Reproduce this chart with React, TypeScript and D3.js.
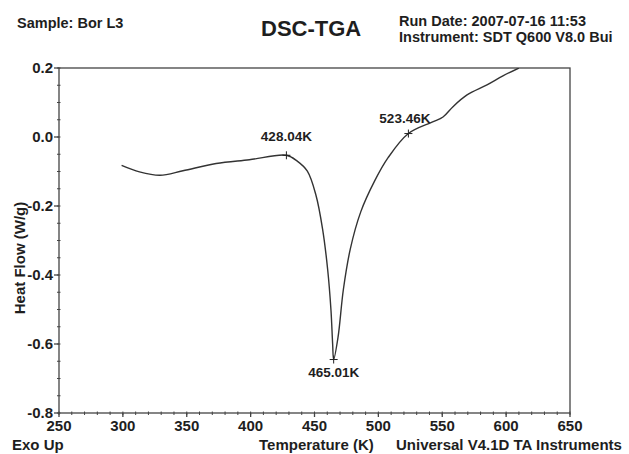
import React from 'react';
import * as d3 from 'd3';

// temperature (K) and heat flow (W/g)
const temps = [
  299, 313, 329, 347, 373, 399, 428, 436.5, 444.4, 451.1, 456.3, 460.3, 462.9,
  464.2, 465, 468.4, 472.6, 478, 486.2, 497, 507.6, 523.5, 542, 550.6, 558.4,
  569.4, 585, 597.5, 610,
];
const heatFlow = [
  -0.082, -0.101, -0.111, -0.098, -0.077, -0.066, -0.053, -0.07, -0.099,
  -0.168, -0.266, -0.384, -0.502, -0.6, -0.645, -0.581, -0.442, -0.325, -0.217,
  -0.128, -0.06, 0.01, 0.043, 0.058, 0.088, 0.122, 0.151, 0.177, 0.2,
];

const markerTemps = [428, 465, 523.5];
const markerValues = [-0.053, -0.645, 0.01];
const markerLabels = ['428.04K', '465.01K', '523.46K'];

const xTicks = [250, 300, 350, 400, 450, 500, 550, 600, 650];
const yTicks = [0.2, 0.0, -0.2, -0.4, -0.6, -0.8];

const W = 629,
  H = 454;
const margin = {top: 68, right: 59, bottom: 41, left: 59};

// label offsets relative to the cross
const labelOffset = [
  {dx: 0, dy: -14},
  {dx: 0, dy: 17},
  {dx: -3.5, dy: -11},
];

const App = () => {
  const x = d3.scaleLinear().domain([250, 650]).range([margin.left, W - margin.right]);
  const y = d3.scaleLinear().domain([-0.8, 0.2]).range([H - margin.bottom, margin.top]);

  const pts = temps.map((t, i) => [t, heatFlow[i]] as [number, number]);
  const line = d3
    .line<[number, number]>()
    .x(d => x(d[0]))
    .y(d => y(d[1]))
    .curve(d3.curveCatmullRom.alpha(0.5));

  const font = '"Liberation Sans", Arial, sans-serif';
  const ink = '#1e1e1e';
  const axisCol = '#444';
  const x0 = x(250),
    x1 = x(650),
    y0 = y(-0.8),
    y1 = y(0.2);

  const xMinor = d3.range(250, 651, 10);
  const yMinor = d3.range(-0.8, 0.2001, 0.05);

  return (
    <svg
      width={W}
      height={H}
      style={{position: 'absolute', left: 0, top: 0, background: '#fff'}}
      fontFamily={font}
      fontWeight="bold"
    >
      <defs>
        <clipPath id="plot">
          <rect x={x0} y={y1} width={x1 - x0} height={y0 - y1} />
        </clipPath>
      </defs>

      {/* header */}
      <text x={17} y={28} fontSize={14.5} fill={ink}>Sample: Bor L3</text>
      <text x={261} y={36} fontSize={22} fill={ink}>DSC-TGA</text>
      <text x={399} y={26} fontSize={14.5} fill={ink}>Run Date: 2007-07-16 11:53</text>
      <text x={399} y={42} fontSize={14.5} fill={ink}>Instrument: SDT Q600 V8.0 Bui</text>

      {/* frame */}
      <rect x={x0} y={y1} width={x1 - x0} height={y0 - y1} fill="none" stroke={axisCol} strokeWidth={1.3} />

      {/* y axis ticks */}
      {yMinor.map((v, i) => (
        <line key={'ym' + i} x1={x0 - 2} x2={x0 + 1.5} y1={y(v)} y2={y(v)} stroke={axisCol} strokeWidth={1} />
      ))}
      {yTicks.map(v => (
        <g key={'y' + v}>
          <line x1={x0 - 5} x2={x0} y1={y(v)} y2={y(v)} stroke={axisCol} strokeWidth={1.3} />
          <text x={x0 - 6} y={y(v)} dy="0.36em" textAnchor="end" fontSize={15} fill={ink}>
            {d3.format('.1f')(v).replace('−', '-')}
          </text>
        </g>
      ))}

      {/* x axis ticks */}
      {xMinor.map(v => (
        <line key={'xm' + v} x1={x(v)} x2={x(v)} y1={y0 - 1.5} y2={y0 + 2} stroke={axisCol} strokeWidth={1} />
      ))}
      {xTicks.map(v => (
        <g key={'x' + v}>
          <line x1={x(v)} x2={x(v)} y1={y0} y2={y0 + 4} stroke={axisCol} strokeWidth={1.3} />
          <text x={x(v)} y={y0 + 18} textAnchor="middle" fontSize={15} fill={ink}>
            {v}
          </text>
        </g>
      ))}

      {/* axis titles */}
      <text transform="translate(25,258) rotate(-90)" textAnchor="middle" fontSize={15} fill={ink}>
        Heat Flow (W/g)
      </text>
      <text x={12} y={450} fontSize={15} fill={ink}>Exo Up</text>
      <text x={259} y={450} fontSize={15} fill={ink}>Temperature (K)</text>
      <text x={396} y={450} fontSize={15} fill={ink}>Universal V4.1D TA Instruments</text>

      {/* trace */}
      <path d={line(pts) ?? ''} fill="none" stroke="#333" strokeWidth={1.4} clipPath="url(#plot)" />

      {/* annotated points */}
      {markerTemps.map((t, i) => {
        const cx = x(t),
          cy = y(markerValues[i]);
        return (
          <g key={markerLabels[i]}>
            <line x1={cx - 4} x2={cx + 4} y1={cy} y2={cy} stroke="#222" strokeWidth={1} />
            <line x1={cx} x2={cx} y1={cy - 4} y2={cy + 4} stroke="#222" strokeWidth={1} />
            <text
              x={cx + labelOffset[i].dx}
              y={cy + labelOffset[i].dy}
              textAnchor="middle"
              fontSize={13.5}
              fill={ink}
            >
              {markerLabels[i]}
            </text>
          </g>
        );
      })}
    </svg>
  );
};

export default App;
